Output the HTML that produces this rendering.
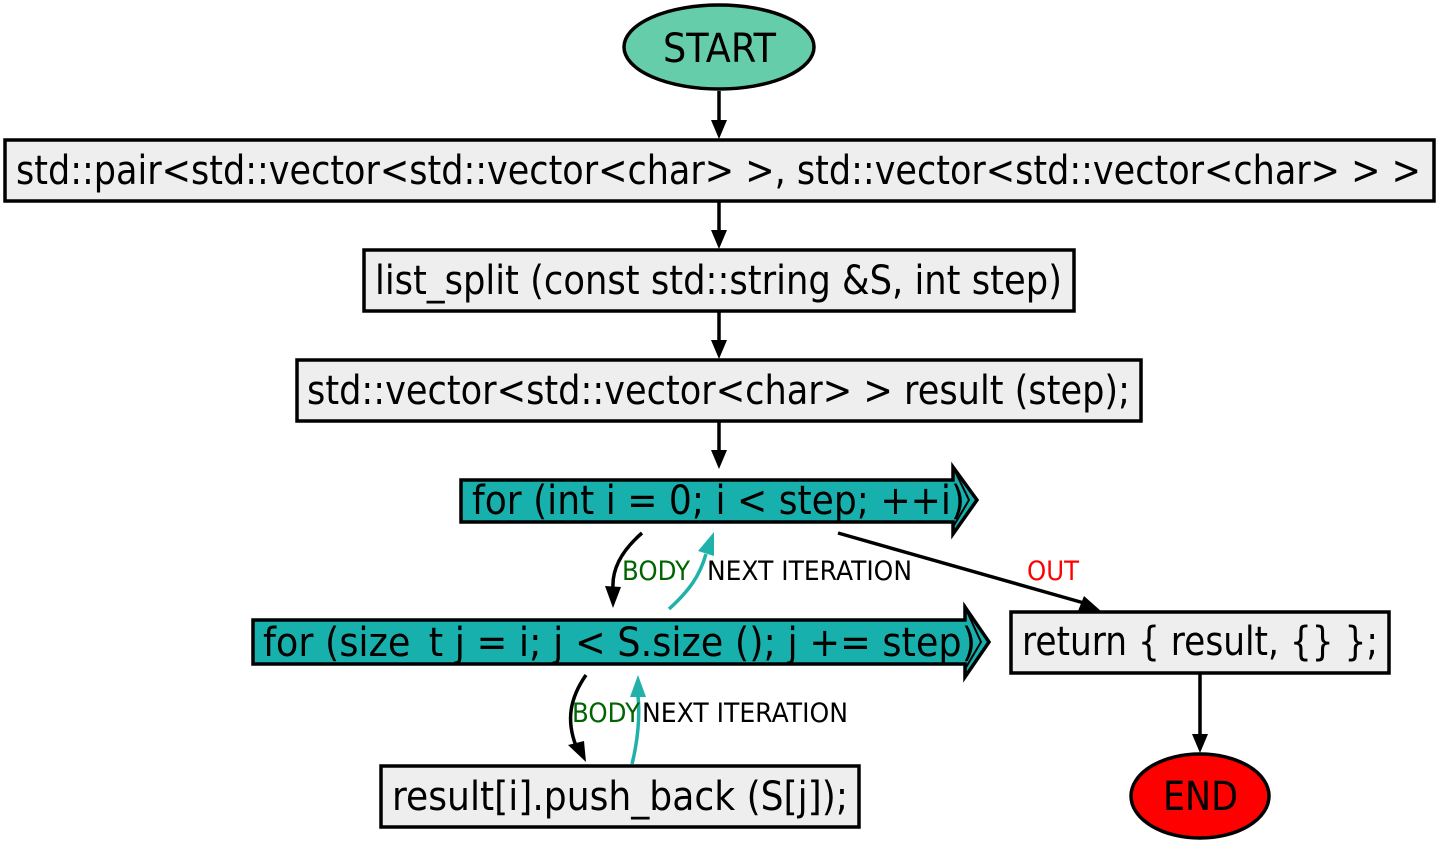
<!DOCTYPE html>
<html><head><meta charset="utf-8"><style>
html,body{margin:0;padding:0;background:#fff;}
svg{display:block;}
text{font-family:"DejaVu Sans","Liberation Sans",sans-serif;}
</style></head><body>
<svg width="1439" height="845" viewBox="0 0 1439 845" xmlns="http://www.w3.org/2000/svg">
<g stroke="#000" stroke-width="3.5">
<ellipse cx="719" cy="47" rx="95" ry="42" fill="#66cdaa"/>
<rect x="5" y="140" width="1429" height="61" fill="#eeeeee"/>
<rect x="364" y="250" width="710" height="61" fill="#eeeeee"/>
<rect x="297" y="360" width="844" height="61" fill="#eeeeee"/>
<path d="M461,480 L953,480 L953,467 L977,500 L953,534 L953,522 L461,522 z" fill="#18b0ac"/>
<path d="M953,467 L969,500 L953,527" fill="none" stroke-width="2"/>
<path d="M253,620 L965,620 L965,607 L989,642 L965,677 L965,664 L253,664 z" fill="#18b0ac"/>
<path d="M965,607 L981,642 L965,669" fill="none" stroke-width="2"/>
<rect x="1011" y="612" width="378" height="61" fill="#eeeeee"/>
<rect x="381" y="766" width="478" height="61" fill="#eeeeee"/>
<ellipse cx="1200" cy="796" rx="69" ry="42" fill="#ff0000"/>
</g>
<g stroke="#000" stroke-width="3.5" fill="none">
<line x1="719" y1="91" x2="719" y2="122"/>
<line x1="719" y1="202" x2="719" y2="232"/>
<line x1="719" y1="312" x2="719" y2="342"/>
<line x1="719" y1="422" x2="719" y2="452"/>
<line x1="1200" y1="674" x2="1200" y2="736"/>
<path d="M642,533 C620,552 612,570 613,588"/>
<path d="M586,675 C570,698 566,720 576,746"/>
<line x1="838" y1="533" x2="1084" y2="603"/>
</g>
<g stroke="#20b2aa" stroke-width="3.5" fill="none">
<path d="M669,609 C690,590 700,575 706,554"/>
<path d="M632,764 C638,740 640,715 638,696"/>
</g>
<g fill="#000">
<polygon points="711,120 727,120 719,139"/>
<polygon points="711,230 727,230 719,249"/>
<polygon points="711,340 727,340 719,359"/>
<polygon points="711,450 727,450 719,469"/>
<polygon points="1192,734 1208,734 1200,753"/>
<polygon points="605,586 621,587 613,608"/>
<polygon points="568,745 584,741 586,762"/>
<polygon points="1078,611 1084,596 1102,612"/>
</g>
<g fill="#20b2aa">
<polygon points="698,551 714,556 714,532"/>
<polygon points="630,697 646,697 638,675"/>
</g>
<g font-size="40" fill="#000" text-anchor="start">
<text x="663" y="62" textLength="113" lengthAdjust="spacingAndGlyphs">START</text>
<text x="16" y="184" textLength="1405" lengthAdjust="spacingAndGlyphs">std::pair&lt;std::vector&lt;std::vector&lt;char&gt; &gt;, std::vector&lt;std::vector&lt;char&gt; &gt; &gt;</text>
<text x="375" y="294" textLength="687" lengthAdjust="spacingAndGlyphs">list_split (const std::string &amp;S, int step)</text>
<text x="307" y="404" textLength="823" lengthAdjust="spacingAndGlyphs">std::vector&lt;std::vector&lt;char&gt; &gt; result (step);</text>
<text x="472" y="514" textLength="493" lengthAdjust="spacingAndGlyphs">for (int i = 0; i &lt; step; ++i)</text>
<text x="263" y="656" textLength="713" lengthAdjust="spacingAndGlyphs">for (size_t j = i; j &lt; S.size (); j += step)</text>
<text x="1022" y="655" textLength="356" lengthAdjust="spacingAndGlyphs">return { result, {} };</text>
<text x="392" y="810" textLength="456" lengthAdjust="spacingAndGlyphs">result[i].push_back (S[j]);</text>
<text x="1163" y="810" textLength="75" lengthAdjust="spacingAndGlyphs">END</text>
</g>
<g font-size="27">
<text x="622" y="580" fill="#006400" textLength="68" lengthAdjust="spacingAndGlyphs">BODY</text>
<text x="707" y="580" fill="#000" textLength="205" lengthAdjust="spacingAndGlyphs">NEXT ITERATION</text>
<text x="1027" y="580" fill="#ff0000" textLength="52" lengthAdjust="spacingAndGlyphs">OUT</text>
<text x="572" y="722" fill="#006400" textLength="68" lengthAdjust="spacingAndGlyphs">BODY</text>
<text x="642" y="722" fill="#000" textLength="206" lengthAdjust="spacingAndGlyphs">NEXT ITERATION</text>
</g>
</svg>
</body></html>
